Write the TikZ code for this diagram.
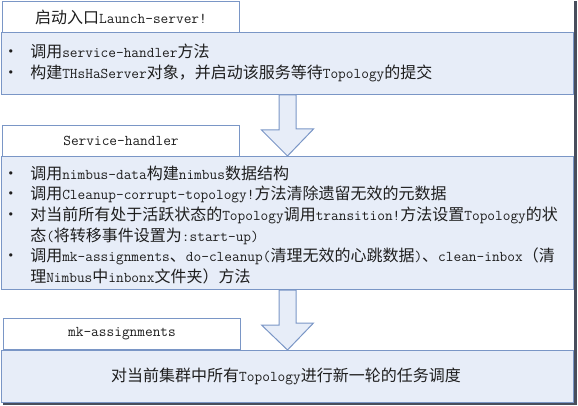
\documentclass[tikz,border=0pt]{standalone}
\usepackage{fontspec}
\newfontfamily\zhfont{Noto Sans CJK SC}
\usetikzlibrary{calc}
\definecolor{boxblue}{RGB}{122,150,198}
\definecolor{boxfill}{RGB}{231,237,248}
\definecolor{shadowgray}{RGB}{72,78,92}
\definecolor{txt}{RGB}{30,30,30}
\newcommand\en[1]{{\ttfamily\fontsize{11.2pt}{15.5pt}\selectfont #1}}
\newcommand\bul{\llap{\textbullet\hspace{8.5pt}}}
\begin{document}
\begin{tikzpicture}[x=0.75pt,y=-0.75pt,
  titlebox/.style={draw=boxblue,fill=white,line width=0.75pt,minimum width=177.75pt,minimum height=23.25pt,anchor=north west,inner sep=0pt},
  bodybox/.style={draw=boxblue,fill=boxfill,line width=0.75pt,minimum width=429pt,anchor=north west,inner sep=0pt},
  flowarrow/.style={draw=boxblue,fill=boxfill,line width=0.75pt,line join=miter},
  zhtext/.style={font=\zhfont\fontsize{12pt}{15.5pt}\selectfont,text=txt,inner sep=0pt},
  bullets/.style={zhtext,anchor=west,align=left}]
\useasboundingbox (0,0) rectangle (578,406);
% shadow of the whole figure
\fill[shadowgray] (574,1) rectangle (577,405);
\fill[shadowgray] (3,402) rectangle (577,405);
% boxes
\node[bodybox,minimum height=46.5pt] (launchbody) at (1,32) {};
\node[titlebox,zhtext] (launchtitle) at (2,1) {启动入口\en{Launch-server!}};
\node[bodybox,minimum height=99.75pt] (servicebody) at (1,156) {};
\node[titlebox,zhtext] (servicetitle) at (2,125) {\en{Service-handler}};
\node[bodybox,minimum height=39pt] (mkbody) at (1,350) {};
\node[titlebox,zhtext] (mktitle) at (3,318) {\en{mk-assignments}};
% arrows
\draw[flowarrow] (launchbody.south) ++(-8.5,0) -- ++(0,35) -- ++(-17.5,0) -- (servicebody.north) -- ++(26,-27) -- ++(-17.5,0) |- (launchbody.south) -- cycle;
\draw[flowarrow] (servicebody.south) ++(-8.5,0) -- ++(0,35) -- ++(-17.5,0) -- (mkbody.north) -- ++(26,-27) -- ++(-17.5,0) |- (servicebody.south) -- cycle;
% texts
\node[bullets] (launchtext) at (30,63) {\bul 调用\en{service-handler}方法\\
\bul 构建\en{THsHaServer}对象，并启动该服务等待\en{Topology}的提交};
\node[bullets] (servicetext) at (30,225) {\bul 调用\en{nimbus-data}构建\en{nimbus}数据结构\\
\bul 调用\en{Cleanup-corrupt-topology!}方法清除遗留无效的元数据\\
\bul 对当前所有处于活跃状态的\en{Topology}调用\en{transition!}方法设置\en{Topology}的状\\
态\en{(}将转移事件设置为\en{:start-up)}\\
\bul 调用\en{mk-assignments}、\en{do-cleanup(}清理无效的心跳数据\en{)}、\en{clean-inbox}（清\\
理\en{Nimbus}中\en{inbonx}文件夹）方法};
\node[zhtext] (mktext) at (286,376) {对当前集群中所有\en{Topology}进行新一轮的任务调度};
\end{tikzpicture}
\end{document}
